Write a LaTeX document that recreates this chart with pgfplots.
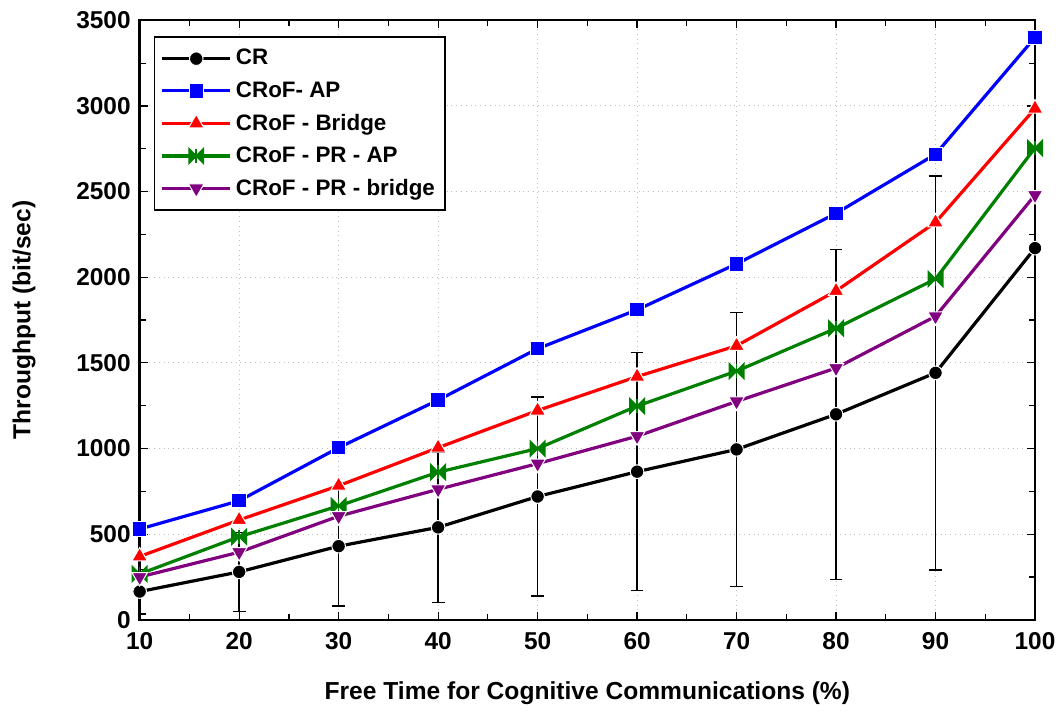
\documentclass[border=0pt]{standalone}
\usepackage{pgfplots}
\pgfplotsset{compat=1.18}
\usepackage{fontspec}
\setmainfont{Liberation Sans}

\definecolor{cgreen}{RGB}{0,128,0}
\definecolor{cpurple}{RGB}{128,0,128}

% bowtie mark: two triangles meeting at the centre
\pgfdeclareplotmark{bowtie}{%
  \pgfpathmoveto{\pgfqpoint{-\pgfplotmarksize}{\pgfplotmarksize}}%
  \pgfpathlineto{\pgfqpoint{0pt}{0pt}}%
  \pgfpathlineto{\pgfqpoint{-\pgfplotmarksize}{-\pgfplotmarksize}}%
  \pgfpathclose
  \pgfpathmoveto{\pgfqpoint{\pgfplotmarksize}{\pgfplotmarksize}}%
  \pgfpathlineto{\pgfqpoint{0pt}{0pt}}%
  \pgfpathlineto{\pgfqpoint{\pgfplotmarksize}{-\pgfplotmarksize}}%
  \pgfpathclose
  \pgfusepathqfillstroke
  \pgfpathmoveto{\pgfqpoint{0pt}{\pgfplotmarksize}}%
  \pgfpathlineto{\pgfqpoint{0pt}{-\pgfplotmarksize}}%
  \pgfusepathqstroke
}

\begin{document}
\begin{tikzpicture}
\begin{axis}[
  scale only axis,
  width=448pt,
  height=300pt,
  xmin=10, xmax=100,
  ymin=0, ymax=3500,
  xtick={10,20,...,100},
  ytick={0,500,...,3500},
  minor tick num=1,
  tick align=inside,
  major tick length=4pt,
  minor tick length=3pt,
  axis line style={line width=1.2pt},
  every tick/.style={black,line width=0.6pt},
  grid=major,
  major grid style={gray!50,dotted,line width=0.5pt},
  /pgf/number format/assume math mode=true,
  /pgf/number format/1000 sep={},
  tick label style={font=\bfseries\fontsize{12.2}{13}\selectfont},
  xticklabel style={yshift=-3pt},
  yticklabel style={xshift=-1pt},
  label style={font=\bfseries\fontsize{12.3}{13}\selectfont},
  xlabel={Free Time for Cognitive Communications (\%)},
  ylabel={Throughput (bit/sec)},
  xlabel style={yshift=-9pt},
  ylabel style={yshift=13.5pt},
  legend cell align=left,
  legend style={at={(0.0156,0.973)},anchor=north west,draw=black,line width=0.9pt,
    font=\bfseries\fontsize{11.2}{12}\selectfont,row sep=2.8pt,inner xsep=3pt,inner ysep=4pt},
  legend image code/.code={\draw[mark repeat=2,mark phase=2,#1]
    plot coordinates {(0cm,0cm) (0.6cm,0cm) (1.2cm,0cm)};},
  every axis plot/.append style={line width=1.6pt},
]
% error bars of the CR series
\addplot[forget plot, only marks, mark=none,
  error bars/.cd, y dir=both, y explicit,
  error bar style={black,line width=0.7pt},
  error mark options={rotate=90,black,mark size=3.2pt,line width=0.7pt}]
  coordinates {
  (10,165) +- (0,130)
  (20,280) +- (0,230)
  (30,430) +- (0,350)
  (40,540) +- (0,440)
  (50,720) +- (0,580)
  (60,865) +- (0,695)
  (70,995) +- (0,800)
  (80,1200) +- (0,963)
  (90,1442) +- (0,1150)
};
\addplot[black, mark=*, mark size=3.4pt, mark options={fill=black,draw=white,line width=0.5pt}]
  coordinates {(10,165) (20,280) (30,430) (40,540) (50,720) (60,865) (70,995) (80,1200) (90,1442) (100,2170)};
\addplot[blue, mark=square*, mark size=3.6pt, mark options={fill=blue,draw=white,line width=0.5pt}]
  coordinates {(10,530) (20,695) (30,1005) (40,1283) (50,1583) (60,1810) (70,2078) (80,2373) (90,2718) (100,3400)};
\addplot[red, mark=triangle*, mark size=4.5pt, mark options={fill=red,draw=white,line width=0.5pt}]
  coordinates {(10,370) (20,583) (30,783) (40,1005) (50,1222) (60,1420) (70,1600) (80,1920) (90,2320) (100,2985)};
\addplot[cgreen, mark=bowtie, mark size=3.6pt, mark options={fill=cgreen,draw=cgreen,line width=0.8pt}]
  coordinates {(10,268) (20,485) (30,665) (40,862) (50,1000) (60,1248) (70,1452) (80,1702) (90,1990) (100,2755)};
\addplot[cpurple, mark=triangle*, mark size=4.5pt, mark options={rotate=180,fill=cpurple,draw=white,line width=0.5pt}]
  coordinates {(10,250) (20,395) (30,605) (40,762) (50,912) (60,1072) (70,1275) (80,1470) (90,1772) (100,2480)};
\legend{CR,CRoF- AP,CRoF - Bridge,CRoF - PR - AP,CRoF - PR - bridge}
\end{axis}
\path ([yshift=-5pt]current bounding box.south);
\path ([xshift=-3pt]current bounding box.west);
\path ([yshift=2.5pt]current bounding box.north);
\end{tikzpicture}
\end{document}
